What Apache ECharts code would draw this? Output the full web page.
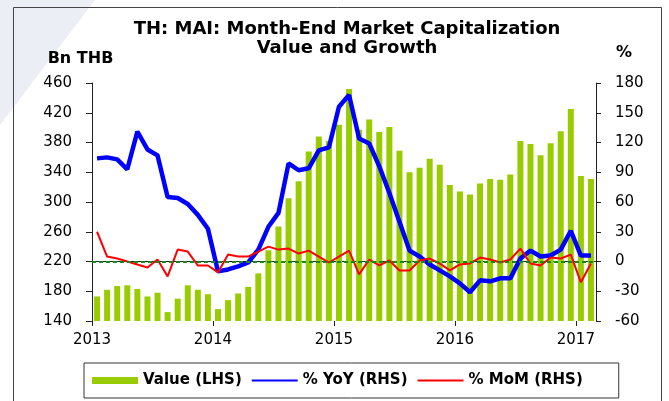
<!DOCTYPE html>
<html>
<head>
<meta charset="utf-8">
<title>TH: MAI Market Capitalization</title>
<script src="https://cdn.jsdelivr.net/npm/echarts@6/dist/echarts.min.js"></script>
<style>
  html, body { margin: 0; padding: 0; background: #fff; }
  #main { width: 669px; height: 401px; }
</style>
</head>
<body>
<div id="main"></div>
<script>
// months Jan 2013 .. Feb 2017
const months = [
  '2013-01','2013-02','2013-03','2013-04','2013-05','2013-06','2013-07','2013-08','2013-09','2013-10','2013-11','2013-12',
  '2014-01','2014-02','2014-03','2014-04','2014-05','2014-06','2014-07','2014-08','2014-09','2014-10','2014-11','2014-12',
  '2015-01','2015-02','2015-03','2015-04','2015-05','2015-06','2015-07','2015-08','2015-09','2015-10','2015-11','2015-12',
  '2016-01','2016-02','2016-03','2016-04','2016-05','2016-06','2016-07','2016-08','2016-09','2016-10','2016-11','2016-12',
  '2017-01','2017-02'
]
const yearLabels = ['2013', '2014', '2015', '2016', '2017']
const yearTickPos = [0, 12, 24, 36, 48]

// Bn THB (LHS)
const valueLHS = [
  173, 182, 187, 188, 183, 173, 178, 152, 170, 188, 182, 176,
  156, 168, 177, 186, 204, 235, 267, 305, 328, 368, 388, 382,
  404, 452, 397, 411, 394, 401, 369, 340, 346, 358, 350, 323,
  314, 310, 325, 331, 330, 337, 382, 378, 363, 379, 395, 425,
  335, 331
]
// % YoY (RHS)
const yoy = [
  104, 105, 103, 93, 131, 113, 107, 65, 64, 58, 47, 33,
  -10, -8, -5, -1, 12, 35, 49, 99, 92, 94, 112, 115,
  156, 168, 124, 119, 96, 69, 40, 11, 5, -3, -9, -15,
  -22, -31, -19, -20, -17, -17, 3, 11, 5, 6, 12, 31,
  6, 6
]
// % MoM (RHS)
const mom = [
  30, 5, 3, 0, -3, -6, 2, -15, 12, 10, -4, -4,
  -11, 7, 5, 5, 10, 15, 12, 13, 8, 11, 5, -1,
  5, 11, -13, 2, -4, 1, -9, -9, 1, 3, -2, -9,
  -3, -2, 4, 2, -1, 2, 13, -2, -4, 4, 3, 7,
  -21, -2
]

const FONT = 'DejaVu Sans'
const AXIS_COLOR = '#222'

const chart = echarts.init(document.getElementById('main'))

let option = {
  animation: false,
  backgroundColor: '#fff',
  graphic: [
    {
      type: 'polygon', z: -10, silent: true,
      shape: { points: [[0, 0], [95, 0], [0, 125]] },
      style: { fill: '#eceef6' }
    },
    {
      type: 'rect', z: -5, silent: true,
      shape: { x: 13.5, y: 7.5, width: 648, height: 420 },
      style: { fill: 'none', stroke: '#444', lineWidth: 1 }
    },
    {
      type: 'text', x: 347, y: 29.5,
      style: { text: 'TH: MAI: Month-End Market Capitalization', align: 'center', verticalAlign: 'middle',
        font: 'bold 18px "DejaVu Sans"', fill: '#000' }
    },
    {
      type: 'text', x: 347, y: 48.5,
      style: { text: 'Value and Growth', align: 'center', verticalAlign: 'middle',
        font: 'bold 18px "DejaVu Sans"', fill: '#000' }
    },
    {
      type: 'text', x: 80.5, y: 59,
      style: { text: 'Bn THB', align: 'center', verticalAlign: 'middle',
        font: 'bold 16px "DejaVu Sans"', fill: '#000' }
    },
    {
      type: 'text', x: 624, y: 52.5,
      style: { text: '%', align: 'center', verticalAlign: 'middle',
        font: 'bold 16px "DejaVu Sans"', fill: '#000' }
    }
  ],
  legend: {
    left: 84,
    top: 363,
    itemWidth: 46,
    itemHeight: 7,
    itemGap: 9,
    padding: [10, 36, 10, 8],
    borderColor: '#333',
    borderWidth: 1,
    textStyle: { fontFamily: FONT, fontWeight: 'bold', fontSize: 15, color: '#000' },
    data: [
      { name: 'Value (LHS)', icon: 'rect' },
      // hide the dot that line series put in the middle of their legend icon
      { name: '% YoY (RHS)', itemStyle: { opacity: 0 } },
      { name: '% MoM (RHS)', itemStyle: { opacity: 0 } }
    ]
  },
  grid: { left: 92, right: 73, top: 83, bottom: 80 },
  xAxis: [
    {
      type: 'category',
      data: months,
      boundaryGap: true,
      position: 'bottom',
      axisLine: { lineStyle: { color: AXIS_COLOR, width: 1 } },
      axisTick: { show: false },
      axisLabel: { show: false },
      splitLine: { show: false }
    },
    {
      // year ticks sit on the month boundaries
      type: 'value',
      min: 0,
      max: months.length,
      position: 'bottom',
      axisLine: { show: false },
      axisTick: { show: true, length: 5, customValues: yearTickPos, lineStyle: { color: AXIS_COLOR } },
      axisLabel: {
        customValues: yearTickPos,
        margin: 12,
        fontFamily: FONT, fontSize: 15, color: '#000',
        formatter: v => yearLabels[yearTickPos.indexOf(v)] || ''
      },
      splitLine: { show: false }
    }
  ],
  yAxis: [
    {
      type: 'value',
      position: 'left',
      min: 140, max: 460, interval: 40,
      axisLine: { show: true, lineStyle: { color: AXIS_COLOR, width: 1 } },
      axisTick: { show: true, length: 6, lineStyle: { color: AXIS_COLOR } },
      axisLabel: { margin: 20, fontFamily: FONT, fontSize: 15, color: '#000' },
      splitLine: { show: false }
    },
    {
      type: 'value',
      position: 'right',
      min: -60, max: 180, interval: 30,
      axisLine: { show: true, lineStyle: { color: AXIS_COLOR, width: 1 } },
      axisTick: { show: true, length: 5, lineStyle: { color: AXIS_COLOR } },
      axisLabel: { margin: 19, fontFamily: FONT, fontSize: 15, color: '#000' },
      splitLine: { show: false }
    }
  ],
  series: [
    {
      name: 'Value (LHS)',
      type: 'bar',
      xAxisIndex: 0,
      yAxisIndex: 0,
      barWidth: 6,
      itemStyle: { color: '#99cc00' },
      data: valueLHS
    },
    {
      name: '% YoY (RHS)',
      type: 'line',
      xAxisIndex: 0,
      yAxisIndex: 1,
      symbol: 'none',
      lineStyle: { color: '#0000ff', width: 4.5 },
      itemStyle: { color: '#0000ff' },
      data: yoy
    },
    {
      name: '% MoM (RHS)',
      type: 'line',
      xAxisIndex: 0,
      yAxisIndex: 1,
      symbol: 'none',
      lineStyle: { color: '#ff0000', width: 2 },
      itemStyle: { color: '#ff0000' },
      data: mom,
      markLine: {
        silent: true,
        symbol: ['none', 'none'],
        label: { show: false },
        lineStyle: { color: '#138a1c', width: 2, type: [4, 3] },
        data: [{ yAxis: 0 }]
      }
    }
  ]
}

chart.setOption(option)
</script>
</body>
</html>
